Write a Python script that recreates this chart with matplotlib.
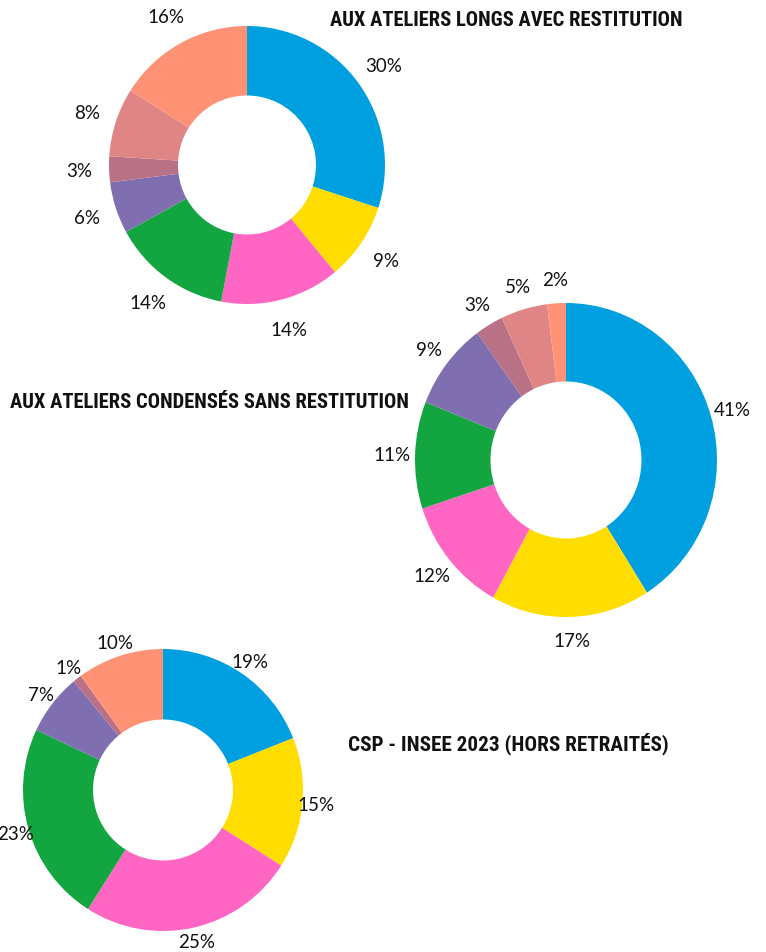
import matplotlib
matplotlib.use("Agg")
import matplotlib.pyplot as plt
from matplotlib import font_manager

categories = ["Cat A", "Cat B", "Cat C", "Cat D", "Cat E", "Cat F", "Cat G", "Cat H"]
colors = ["#009FDF", "#FFDD00", "#FF66C4", "#12A540", "#7F6FB0", "#B87185", "#E08585", "#FF9274"]

titles = ["AUX ATELIERS LONGS AVEC RESTITUTION",
          "AUX ATELIERS CONDENSÉS SANS RESTITUTION",
          "CSP - INSEE 2023 (HORS RETRAITÉS)"]
values_longs = [30, 9, 14, 14, 6, 3, 8, 16]
values_condenses = [41, 17, 12, 11, 9, 3, 5, 2]
values_insee = [19, 15, 25, 23, 7, 1, 0, 10]

W, H = 766, 953
fig = plt.figure(figsize=(W / 100, H / 100), dpi=100)

# (center x, center y in px from top, rx, ry, labeldistance)
layouts = [(247, 166, 138, 139, 1.22),
           (566, 461, 151, 157, 1.15),
           (163, 791, 140, 141, 1.10)]
series = [values_longs, values_condenses, values_insee]

for (cx, cy, rx, ry, ld), vals in zip(layouts, series):
    ax = fig.add_axes([(cx - rx) / W, 1 - (cy + ry) / H, 2 * rx / W, 2 * ry / H])
    labels = [f"{v}%" if v > 0 else "" for v in vals]
    wedges, texts = ax.pie(vals, colors=colors, startangle=90, counterclock=False,
                           radius=1.0, labels=labels, labeldistance=ld,
                           wedgeprops=dict(width=0.5, linewidth=0),
                           textprops=dict(fontsize=13.5, color="#111111", family="Lato"))
    for t in texts:
        t.set_ha("center")
        t.set_va("center")
        t.set_clip_on(False)
    ax.set_xlim(-1, 1)
    ax.set_ylim(-1, 1)
    ax.set_aspect("auto")
    ax.axis("off")

narrow = None
names = {f.name for f in font_manager.fontManager.ttflist}
for cand in ["Liberation Sans Narrow", "DejaVu Sans Condensed", "Roboto Condensed", "Open Sans Condensed"]:
    if cand in names:
        narrow = cand
        break

if narrow is not None:
    title_font = dict(family=narrow, fontweight="bold", fontsize=14.8, color="#111111")
else:
    title_font = dict(family="DejaVu Sans", fontstretch="condensed", fontweight="bold",
                      fontsize=10.5, color="#111111")
fig.text(683 / W, 1 - 20 / H, titles[0], ha="right", va="center", **title_font)
fig.text(10 / W, 1 - 402 / H, titles[1], ha="left", va="center", **title_font)
fig.text(348 / W, 1 - 744 / H, titles[2], ha="left", va="center",
         **dict(title_font, fontsize=title_font["fontsize"] * 1.03))

fig.savefig("out.png", dpi=100)
